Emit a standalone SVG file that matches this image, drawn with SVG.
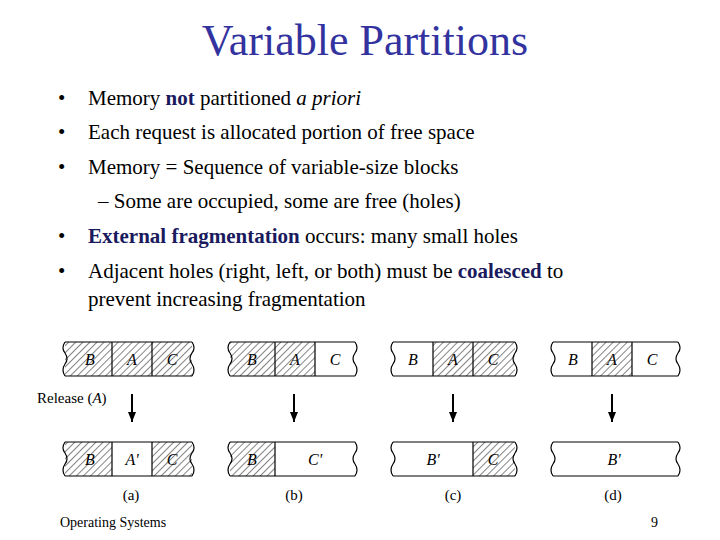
<svg xmlns="http://www.w3.org/2000/svg" width="720" height="540" viewBox="0 0 720 540">
<defs>
<pattern id="h" width="5" height="5" patternUnits="userSpaceOnUse" patternTransform="rotate(45)"><rect width="5" height="5" fill="#fff"/><line x1="0" y1="0" x2="0" y2="5" stroke="#333" stroke-width="1.2"/></pattern>
<marker id="ar" markerWidth="10" markerHeight="8" refX="10" refY="4" orient="auto" markerUnits="userSpaceOnUse"><path d="M0 0 L10 4 L0 8 Z" fill="#000"/></marker>
<style>
.b{font-weight:bold;fill:#1a1a5e}
.l{font-size:16px;font-style:italic;fill:#000;text-anchor:middle}
.c{font-size:15px;fill:#000;text-anchor:middle}
.s{fill:none;stroke:#000;stroke-width:1.2}
.hc{fill:url(#h)}
.w{fill:#fff}
.ar{stroke:#000;stroke-width:2;marker-end:url(#ar)}
</style>
</defs>
<g font-family="Liberation Serif, serif">
<text x="365" y="55" font-size="44" fill="#3333a0" text-anchor="middle">Variable Partitions</text>
<g font-size="21" fill="#000">
<text x="58" y="105">•</text><text x="88" y="105">Memory <tspan class="b">not</tspan> partitioned <tspan font-style="italic">a priori</tspan></text>
<text x="58" y="139">•</text><text x="88" y="139">Each request is allocated portion of free space</text>
<text x="58" y="174">•</text><text x="88" y="174">Memory = Sequence of variable-size blocks</text>
<text x="98" y="208">– Some are occupied, some are free (holes)</text>
<text x="58" y="243">•</text><text x="88" y="243"><tspan class="b">External fragmentation</tspan> occurs: many small holes</text>
<text x="58" y="278">•</text><text x="88" y="278">Adjacent holes (right, left, or both) must be <tspan class="b">coalesced</tspan> to</text>
<text x="88" y="306">prevent increasing fragmentation</text>
</g>
<g id="a-top">
<rect class="hc" x="65" y="342" width="127" height="34"/>
<path class="s" d="M65 342H192M65 376H192M112 342V376M152 342V376M65 342q-4 6 0 11q4 6 0 11q-4 6 0 12M192 342q4 6 0 11q-4 6 0 11q4 6 0 12"/>
<text class="l" x="90" y="365">B</text><text class="l" x="132" y="365">A</text><text class="l" x="172" y="365">C</text>
</g>
<g id="a-bot">
<rect class="hc" x="65" y="442" width="127" height="34"/><rect class="w" x="112" y="442" width="40" height="34"/>
<path class="s" d="M65 442H192M65 476H192M112 442V476M152 442V476M65 442q-4 6 0 11q4 6 0 11q-4 6 0 12M192 442q4 6 0 11q-4 6 0 11q4 6 0 12"/>
<text class="l" x="90" y="465">B</text><text class="l" x="132" y="465">A'</text><text class="l" x="172" y="465">C</text>
</g>
<g id="b-top">
<rect class="hc" x="230" y="342" width="85" height="34"/>
<path class="s" d="M230 342H355M230 376H355M275 342V376M315 342V376M230 342q-4 6 0 11q4 6 0 11q-4 6 0 12M355 342q4 6 0 11q-4 6 0 11q4 6 0 12"/>
<text class="l" x="252" y="365">B</text><text class="l" x="295" y="365">A</text><text class="l" x="335" y="365">C</text>
</g>
<g id="b-bot">
<rect class="hc" x="230" y="442" width="45" height="34"/>
<path class="s" d="M230 442H355M230 476H355M275 442V476M230 442q-4 6 0 11q4 6 0 11q-4 6 0 12M355 442q4 6 0 11q-4 6 0 11q4 6 0 12"/>
<text class="l" x="252" y="465">B</text><text class="l" x="315" y="465">C'</text>
</g>
<g id="c-top">
<rect class="hc" x="433" y="342" width="82" height="34"/>
<path class="s" d="M393 342H515M393 376H515M433 342V376M473 342V376M393 342q-4 6 0 11q4 6 0 11q-4 6 0 12M515 342q4 6 0 11q-4 6 0 11q4 6 0 12"/>
<text class="l" x="413" y="365">B</text><text class="l" x="453" y="365">A</text><text class="l" x="493" y="365">C</text>
</g>
<g id="c-bot">
<rect class="hc" x="473" y="442" width="42" height="34"/>
<path class="s" d="M393 442H515M393 476H515M473 442V476M393 442q-4 6 0 11q4 6 0 11q-4 6 0 12M515 442q4 6 0 11q-4 6 0 11q4 6 0 12"/>
<text class="l" x="433" y="465">B'</text><text class="l" x="493" y="465">C</text>
</g>
<g id="d-top">
<rect class="hc" x="592" y="342" width="40" height="34"/>
<path class="s" d="M553 342H678M553 376H678M592 342V376M632 342V376M553 342q-4 6 0 11q4 6 0 11q-4 6 0 12M678 342q4 6 0 11q-4 6 0 11q4 6 0 12"/>
<text class="l" x="573" y="365">B</text><text class="l" x="612" y="365">A</text><text class="l" x="652" y="365">C</text>
</g>
<g id="d-bot">
<path class="s" d="M553 442H678M553 476H678M553 442q-4 6 0 11q4 6 0 11q-4 6 0 12M678 442q4 6 0 11q-4 6 0 11q4 6 0 12"/>
<text class="l" x="614" y="465">B'</text>
</g>
<g id="connectors">
<line class="ar" x1="132" y1="394" x2="132" y2="422"/>
<line class="ar" x1="294" y1="394" x2="294" y2="422"/>
<line class="ar" x1="453" y1="394" x2="453" y2="422"/>
<line class="ar" x1="612" y1="394" x2="612" y2="422"/>
</g>
<text x="37" y="403" font-size="15">Release (<tspan font-style="italic">A</tspan>)</text>
<text class="c" x="131" y="500">(a)</text><text class="c" x="294" y="500">(b)</text><text class="c" x="453" y="500">(c)</text><text class="c" x="613" y="500">(d)</text>
<text x="60" y="527" font-size="14">Operating Systems</text>
<text x="658" y="527" font-size="14" text-anchor="end">9</text>
</g>
</svg>
